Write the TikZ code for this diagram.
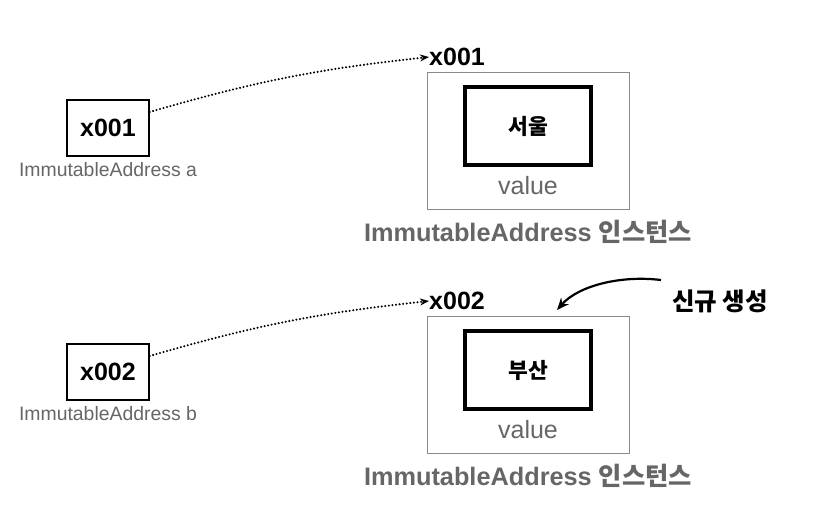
\documentclass[tikz,border=0pt]{standalone}
\usepackage{fontspec}
\setmainfont{Liberation Sans}
\newfontfamily\kr{Noto Sans CJK KR}
\usetikzlibrary{arrows.meta}
\definecolor{lgray}{HTML}{666666}
\definecolor{bgray}{HTML}{8A8A8A}
\begin{document}
\begin{tikzpicture}[x=1pt,y=-1pt,
  refbox/.style={draw=black,line width=1.3pt,minimum width=82pt,minimum height=56pt,inner sep=0pt,font=\fontsize{25}{25}\selectfont\bfseries},
  varlabel/.style={text=lgray,inner sep=0pt,font=\fontsize{19.4}{19.4}\selectfont},
  addr/.style={inner sep=0pt,anchor=west,font=\fontsize{25}{25}\selectfont\bfseries},
  outerbox/.style={draw=bgray,line width=0.9pt,minimum width=202pt,minimum height=137pt,inner sep=0pt},
  innerbox/.style={draw=black,line width=3.5pt,minimum width=126pt,minimum height=78pt,inner sep=0pt,font=\fontsize{21.5}{21.5}\selectfont\kr\bfseries},
  valtext/.style={text=lgray,inner sep=0pt,font=\fontsize{25}{25}\selectfont},
  instlabel/.style={text=lgray,inner sep=0pt,font=\fontsize{25.3}{25.3}\selectfont\bfseries},
  ptr/.style={line width=2.3pt,line cap=round,dash pattern=on 0pt off 3.6pt,-{Stealth[length=9pt,width=7pt]}},
]
\useasboundingbox (0,0) rectangle (821,504);

% first
\node[refbox] (a) at (108,128) {x001};
\node[varlabel] (alab) at (108,170) {ImmutableAddress a};
\node[addr] (t1) at (429,57) {x001};
\node[outerbox] (o1) at (528,140.5) {};
\node[innerbox] (i1) at (528,126) {서울};
\node[valtext] (v1) at (528,186) {value};
\node[instlabel] (n1) at (528,232) {ImmutableAddress {\kr 인스턴스}};
\draw[ptr] (a.east |- 0,112) to[bend left=5] (t1.west);

% second
\node[refbox] (b) at (108,372) {x002};
\node[varlabel] (blab) at (108,414) {ImmutableAddress b};
\node[addr] (t2) at (429,301) {x002};
\node[outerbox] (o2) at (528,384.5) {};
\node[innerbox] (i2) at (528,370) {부산};
\node[valtext] (v2) at (528,430) {value};
\node[instlabel] (n2) at (528,476) {ImmutableAddress {\kr 인스턴스}};
\draw[ptr] (b.east |- 0,356) to[bend left=5] (t2.west);

% new creation
\node[inner sep=0pt,font=\fontsize{24.5}{24.5}\selectfont\kr\bfseries] (new) at (720,301) {신규 생성};
\coordinate (s) at (661,280);
\coordinate (e) at (557,310);
\draw[line width=2.2pt,-{Stealth[length=12pt,width=10pt]}] (s) .. controls (620,275) and (578,286) .. (e);
\end{tikzpicture}
\end{document}
